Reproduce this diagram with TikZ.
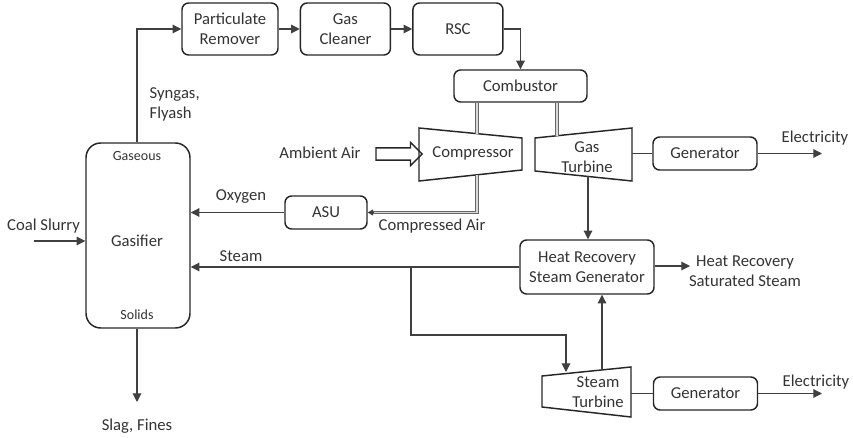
\documentclass[tikz,border=0pt]{standalone}
\usepackage{fontspec}
\setmainfont{Carlito}
\usetikzlibrary{arrows.meta,positioning,shapes.arrows}

\begin{document}
\begin{tikzpicture}[
x=0.75pt, y=-0.75pt,
font=\fontsize{12.5}{15}\selectfont,
text=black!80,
node distance=15.75pt,
mybox/.style={
  draw=black!85,
  line width=1.1pt,
  rounded corners=5pt,
  align=center,
  inner sep=0pt
  },
trap/.style={draw=black!85, line width=1.1pt},
flow/.style={draw=black!75, line width=0.8pt, -{Triangle[length=6.5pt,width=6.5pt]}},
link/.style={draw=black!75, line width=0.8pt},
airline/.style={draw=black!60, line width=0.8pt, double=black!15, double distance=0.9pt},
small/.style={font=\fontsize{10.5}{12}\selectfont},
inlet/.style={single arrow, draw=black!85, line width=1pt, minimum height=34.5pt,
  inner xsep=0pt, inner ysep=4.1pt, single arrow head extend=4.1pt}
]
\useasboundingbox (0,0) rectangle (853,438);

% boxes
\node[mybox,minimum width=72pt,minimum height=39pt] (remover) at (230,29) {Particulate\\Remover};
\node[mybox,minimum width=67.5pt,minimum height=39pt,right=of remover] (cleaner) {Gas\\Cleaner};
\node[mybox,minimum width=67.5pt,minimum height=39pt,right=of cleaner] (rsc) {RSC};
\node[mybox,minimum width=99.75pt,minimum height=24pt] (combustor) at (520.5,86) {Combustor};
\node[mybox,minimum width=78pt,minimum height=24.75pt] (gen1) at (705,153.5) {Generator};
\node[mybox,minimum width=78pt,minimum height=24.75pt] (gen2) at (705.5,393.5) {Generator};
\node[mybox,minimum width=61.5pt,minimum height=24.75pt] (asu) at (326,212.5) {ASU};
\node[mybox,minimum width=78pt,minimum height=138.75pt,rounded corners=11pt] (gasifier) at (138,235.5) {};
\node (gasname) at (137,241) {Gasifier};
\node[small] (gaseous) at (137,156) {Gaseous};
\node[small] (solids) at (137,315) {Solids};
\node[mybox,minimum width=100.5pt,minimum height=40.5pt] (hrsg) at (587,267) {Heat Recovery\\Steam Generator};

% turbines
\draw[trap] (419,128) -- (522,138) -- (522,170) -- (419,181) -- cycle;
\node (compressor) at (473,153) {Compressor};
\draw[trap] (535,138) -- (632,128) -- (632,181) -- (535,171) -- cycle;
\node[align=center] (gasturbine) at (587,157) {Gas\\Turbine};
\draw[trap] (542,376) -- (631,367) -- (631,417) -- (542,407) -- cycle;
\node[align=center] (steamturbine) at (598,392) {Steam\\Turbine};
\coordinate (comp in) at (477,133.6);
\coordinate (comp out) at (477,174.8);
\coordinate (gt in) at (557,135.7);
\coordinate (gt out) at (588,176.5);
\coordinate (gt shaft) at (632,153.5);
\coordinate (st in) at (566,372);
\coordinate (st out) at (602,369.9);
\coordinate (st shaft) at (631,393.5);

% free ends
\coordinate (coal) at (34,241);
\coordinate (slag) at (137,402);
\coordinate (split) at (411,267);
\coordinate (bend) at (566,335);
\coordinate (sat) at (690,266);
\coordinate (elec1) at (822,153.5);
\coordinate (elec2) at (822,393.5);

% labels
\node[align=left,anchor=west] (syngas) at (145,104) {Syngas,\\Flyash};
\node (ambient) at (320,153) {Ambient Air};
\node[inlet] (airin) at (396,154) {};
\node (oxygen) at (241,197) {Oxygen};
\node (compair) at (432,226) {Compressed Air};
\node (coallabel) at (43.5,226) {Coal Slurry};
\node (steam) at (241,256) {Steam};
\node (slaglabel) at (137,426) {Slag, Fines};
\node (elabel1) at (815,138) {Electricity};
\node (elabel2) at (816,382) {Electricity};
\node[align=center] (satlabel) at (745,271.5) {Heat Recovery\\Saturated Steam};

% connectors
\draw[flow] (gasifier.north -| slag) |- (remover.west);
\draw[flow] (remover) -- (cleaner);
\draw[flow] (cleaner) -- (rsc);
\draw[flow] (rsc.east) -| (combustor.north);
\draw[airline] (combustor.south -| comp in) -- (comp in);
\draw[airline] (combustor.south -| gt in) -- (gt in);
\draw[airline] (comp out) |- ([xshift=4pt]asu.east);
\draw[flow,-{Triangle[length=4pt,width=4.5pt]}] ([xshift=4pt]asu.east) -- (asu.east);
\draw[flow] (asu.west) -- (asu.west -| gasifier.east);
\draw[flow] (coal) -- (coal -| gasifier.west);
\draw[flow] (hrsg.west) -- (hrsg.west -| gasifier.east);
\draw[flow] (split) |- (bend) -- (st in);
\draw[flow] (gt out) -- (gt out |- hrsg.north);
\draw[flow] (st out) -- (st out |- hrsg.south);
\draw[link] (gt shaft) -- (gen1.west);
\draw[link] (st shaft) -- (gen2.west);
\draw[flow] (gen1.east) -- (elec1);
\draw[flow] (gen2.east) -- (elec2);
\draw[flow] (hrsg.east |- sat) -- (sat);
\draw[flow] (gasifier.south -| slag) -- (slag);
\end{tikzpicture}
\end{document}
